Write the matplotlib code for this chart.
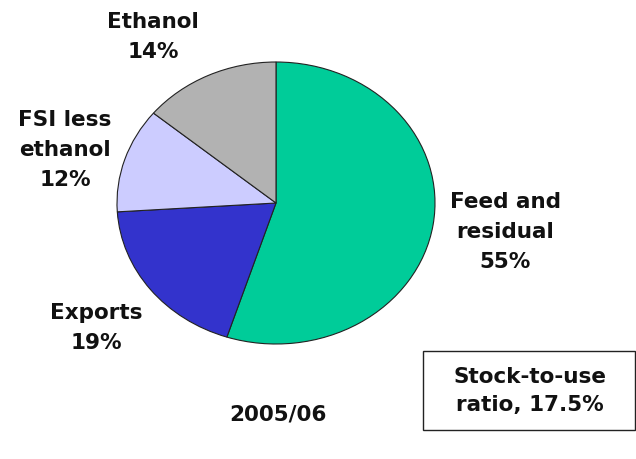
import matplotlib
matplotlib.use("Agg")
import matplotlib.pyplot as plt
from matplotlib.patches import Rectangle

categories = ["Feed and\nresidual", "Exports", "FSI less\nethanol", "Ethanol"]
values = [55, 19, 12, 14]
colors = ["#00CC99", "#3333CC", "#CCCCFF", "#B2B2B2"]
title = "2005/06"
note = "Stock-to-use\nratio, 17.5%"

W, H = 636, 459
fig = plt.figure(figsize=(W / 100, H / 100), dpi=100)
plt.rcParams['font.family'] = ['DejaVu Sans']

cx, cy, rx, ry = 276, 203, 159, 141
ax = fig.add_axes([(cx - rx) / W, 1 - (cy + ry) / H, 2 * rx / W, 2 * ry / H])
ax.pie(values, colors=colors, startangle=90, counterclock=False,
       wedgeprops=dict(edgecolor="#222222", linewidth=0.8))
ax.set_xlim(-1, 1)
ax.set_ylim(-1, 1)
ax.set_aspect('auto')
ax.axis('off')

def px(x, y):
    return x / W, 1 - y / H

FS = 15.5
label_pos = [(505, 232), (96, 328), (65, 150), (153, 37)]
for cat, v, (x, y) in zip(categories, values, label_pos):
    fig.text(*px(x, y), f"{cat}\n{v}%", ha='center', va='center',
             fontsize=FS, fontweight='bold', linespacing=1.6, color='#111111')

fig.text(*px(278, 414), title, ha='center', va='center', fontsize=FS,
         fontweight='bold', color='#111111')

fig.patches.append(Rectangle(px(423, 430), (635 - 423) / W, (430 - 351) / H,
                             transform=fig.transFigure, fill=False,
                             edgecolor='#222222', linewidth=1.0))
fig.text(*px(530, 391), note, ha='center', va='center', fontsize=FS,
         fontweight='bold', linespacing=1.45, color='#111111')

fig.savefig("out.png", dpi=100)
